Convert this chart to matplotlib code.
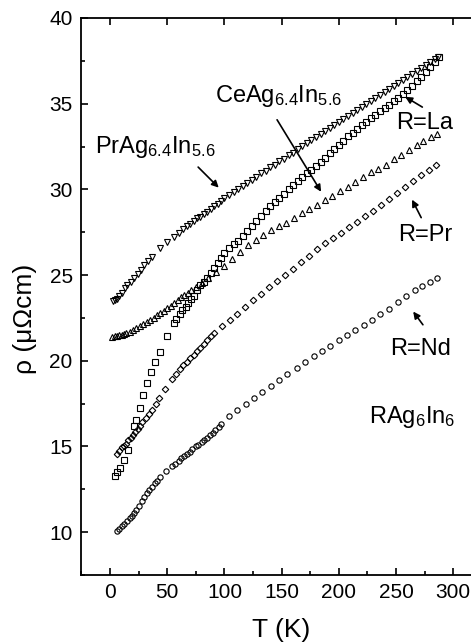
import matplotlib
matplotlib.use('Agg')
from matplotlib import pyplot as plt
from matplotlib.ticker import MultipleLocator

plt.rcParams['font.family'] = ['Liberation Sans', 'DejaVu Sans']
plt.rcParams['mathtext.fontset'] = 'custom'
plt.rcParams['mathtext.rm'] = 'Liberation Sans'
plt.rcParams['mathtext.default'] = 'regular'

# PrAg6.4In5.6 (open down triangles)
t_pr64 = [3, 4, 6, 8, 10, 13, 15, 18, 21, 24, 27, 30, 33, 37, 44, 50, 56, 60, 64, 67, 70, 73, 76, 79,
          82, 85, 88, 91, 94, 97, 100, 104, 108, 112, 116, 120, 124, 128, 132, 136, 140, 144, 148,
          152, 156, 160, 164, 168, 172, 176, 180, 184, 188, 192, 196, 200, 204, 208, 212, 216, 220,
          224, 228, 232, 236, 240, 244, 248, 252, 256, 260, 264, 268, 272, 276, 280, 284, 287]
rho_pr64 = [23.5, 23.55, 23.6, 23.75, 23.95, 24.25, 24.4, 24.6, 24.85, 25.05, 25.3, 25.6, 25.8, 26.05,
            26.55, 26.9, 27.2, 27.45, 27.7, 27.85, 28.0, 28.15, 28.3, 28.4, 28.55, 28.7, 28.85, 29.0,
            29.15, 29.35, 29.5, 29.7, 29.85, 30.05, 30.2, 30.4, 30.55, 30.75, 30.95, 31.1, 31.3, 31.45,
            31.65, 31.8, 32.0, 32.15, 32.35, 32.55, 32.7, 32.9, 33.05, 33.25, 33.4, 33.6, 33.75, 33.95,
            34.1, 34.3, 34.45, 34.65, 34.8, 35.0, 35.15, 35.35, 35.5, 35.7, 35.85, 36.05, 36.2, 36.4,
            36.55, 36.75, 36.9, 37.1, 37.25, 37.45, 37.6, 37.75]

# CeAg6.4In5.6 (open up triangles)
t_ce64 = [2, 4, 6, 8, 10, 12, 14, 17, 20, 23, 26, 29, 32, 35, 38, 41, 44, 47, 50, 53, 56, 59, 62, 65,
          68, 71, 75, 80, 86, 93, 100, 107, 114, 121, 128, 134, 141, 148, 154, 161, 168, 174, 181,
          188, 194, 201, 208, 214, 221, 228, 234, 241, 248, 254, 261, 268, 274, 281, 286]
rho_ce64 = [21.4, 21.42, 21.45, 21.48, 21.52, 21.57, 21.62, 21.7, 21.8, 21.9, 22.0, 22.12, 22.25,
            22.38, 22.5, 22.65, 22.78, 22.9, 23.05, 23.2, 23.38, 23.55, 23.72, 23.85, 23.98, 24.1,
            24.3, 24.55, 24.85, 25.2, 25.55, 25.95, 26.35, 26.75, 27.05, 27.35, 27.6, 27.85, 28.05,
            28.35, 28.6, 28.85, 29.1, 29.4, 29.6, 29.9, 30.15, 30.45, 30.75, 31.0, 31.2, 31.45, 31.75,
            32.0, 32.3, 32.6, 32.85, 33.05, 33.25]

# LaAg6In6 (open squares)
t_la = [4, 6, 9, 12, 16, 21, 23, 26, 29, 32, 36, 39, 44, 50, 56, 58, 61, 63, 66, 68, 71, 73, 76, 79,
        82, 85, 88, 91, 94, 97, 100, 104, 108, 112, 116, 120, 124, 128, 132, 136, 140, 144, 148, 152,
        156, 160, 164, 168, 172, 176, 180, 184, 188, 192, 196, 200, 204, 208, 212, 216, 220, 224, 228,
        232, 236, 240, 244, 248, 252, 256, 260, 264, 268, 272, 276, 280, 284, 288]
rho_la = [13.25, 13.5, 13.75, 14.2, 14.8, 16.2, 16.55, 17.25, 18.0, 18.7, 19.35, 19.9, 20.5, 21.45,
          22.2, 22.45, 22.75, 22.95, 23.15, 23.35, 23.6, 23.8, 24.1, 24.4, 24.6, 24.85, 25.1, 25.4,
          25.7, 26.0, 26.3, 26.55, 26.8, 27.0, 27.25, 27.55, 27.85, 28.15, 28.45, 28.75, 29.0, 29.25,
          29.5, 29.75, 30.0, 30.25, 30.5, 30.75, 30.95, 31.15, 31.35, 31.6, 31.85, 32.1, 32.35, 32.6,
          32.85, 33.1, 33.3, 33.55, 33.75, 33.95, 34.15, 34.35, 34.55, 34.75, 34.95, 35.15, 35.35,
          35.55, 35.8, 36.05, 36.3, 36.55, 36.85, 37.15, 37.45, 37.75]

# PrAg6In6 (open diamonds)
t_pr = [6, 8, 10, 12, 14, 16, 18, 20, 22, 24, 26, 28, 31, 34, 37, 40, 43, 48, 54, 58, 61, 64, 67, 70,
        73, 76, 79, 82, 85, 88, 91, 98, 105, 111, 118, 125, 132, 139, 146, 153, 160, 167, 174, 181,
        188, 195, 202, 209, 216, 223, 230, 237, 244, 251, 258, 265, 272, 279, 285]
rho_pr = [14.55, 14.75, 14.95, 15.05, 15.15, 15.35, 15.5, 15.65, 15.85, 16.0, 16.2, 16.4, 16.65, 16.9,
          17.15, 17.5, 17.85, 18.35, 18.95, 19.25, 19.5, 19.75, 19.95, 20.15, 20.35, 20.55, 20.75,
          21.0, 21.2, 21.45, 21.6, 22.0, 22.4, 22.75, 23.15, 23.55, 23.9, 24.3, 24.65, 25.0, 25.35,
          25.75, 26.1, 26.5, 26.85, 27.15, 27.45, 27.8, 28.1, 28.45, 28.75, 29.1, 29.45, 29.8, 30.15,
          30.5, 30.85, 31.15, 31.45]

# NdAg6In6 (open circles)
t_nd = [6, 8, 10, 12, 15, 17, 19, 21, 23, 25, 28, 30, 32, 34, 37, 39, 41, 44, 49, 54, 57, 60, 62, 65,
        67, 70, 72, 75, 77, 80, 82, 85, 87, 90, 92, 95, 97, 104, 111, 119, 126, 133, 141, 148, 155,
        163, 170, 178, 185, 192, 200, 207, 214, 222, 229, 236, 244, 252, 259, 267, 273, 280, 286]
rho_nd = [10.05, 10.2, 10.35, 10.5, 10.65, 10.8, 10.95, 11.1, 11.3, 11.5, 11.8, 12.05, 12.3, 12.45,
          12.65, 12.85, 13.0, 13.2, 13.55, 13.85, 14.0, 14.15, 14.3, 14.45, 14.55, 14.7, 14.85, 15.0,
          15.1, 15.25, 15.35, 15.5, 15.65, 15.8, 15.95, 16.15, 16.3, 16.8, 17.1, 17.5, 17.85, 18.2,
          18.55, 18.9, 19.2, 19.55, 19.9, 20.25, 20.55, 20.85, 21.2, 21.5, 21.8, 22.1, 22.4, 22.7,
          23.0, 23.4, 23.75, 24.1, 24.35, 24.6, 24.8]

fig = plt.figure(figsize=(4.71, 6.42), dpi=100)
ax = fig.add_axes([0.172, 0.1044, 0.85, 0.8676])

mk = dict(linestyle='none', mfc='none', mec='black', mew=0.8)
ax.plot(t_pr64, rho_pr64, marker='v', ms=4.4, **mk)
ax.plot(t_ce64, rho_ce64, marker='^', ms=4.4, **mk)
ax.plot(t_la, rho_la, marker='s', ms=4.0, **mk)
ax.plot(t_pr, rho_pr, marker='D', ms=3.3, **mk)
ax.plot(t_nd, rho_nd, marker='o', ms=3.8, **mk)

ax.set_xlim(-25.4, 324.6)
ax.set_ylim(7.5, 40)
ax.xaxis.set_major_locator(MultipleLocator(50))
ax.xaxis.set_minor_locator(MultipleLocator(25))
ax.yaxis.set_major_locator(MultipleLocator(5))
ax.yaxis.set_minor_locator(MultipleLocator(2.5))
ax.tick_params(which='both', direction='in', labelsize=15, width=1.2)
ax.tick_params(which='major', length=5, top=True, pad=6)
ax.tick_params(which='minor', length=3, top=False)
for s in ax.spines.values():
    s.set_linewidth(1.3)

ax.set_xlabel('T (K)', fontsize=19)
ax.set_ylabel('ρ (μΩcm)', fontsize=19)
ax.xaxis.set_label_coords(0.5, -0.077)
ax.yaxis.set_label_coords(-0.11, 0.46)

# labels and arrows
fs = 17
ax.text(-13, 32.13, r'PrAg$_{6.4}$In$_{5.6}$', fontsize=fs, ha='left', va='baseline')
ax.text(92, 35.12, r'CeAg$_{6.4}$In$_{5.6}$', fontsize=fs, ha='left', va='baseline')
ax.text(250.5, 33.5, 'R=La', fontsize=fs, ha='left', va='baseline')
ax.text(252, 27.0, 'R=Pr', fontsize=fs, ha='left', va='baseline')
ax.text(245, 20.36, 'R=Nd', fontsize=fs, ha='left', va='baseline')
ax.text(226, 16.34, r'RAg$_6$In$_6$', fontsize=fs, ha='left', va='baseline')

arr = dict(arrowstyle='-|>', color='black', lw=1.2, mutation_scale=10, shrinkA=0, shrinkB=0)
ax.annotate('', xy=(95, 30.1), xytext=(77, 31.3), arrowprops=arr)
ax.annotate('', xy=(184.5, 29.86), xytext=(146, 34.06), arrowprops=arr)
ax.annotate('', xy=(258, 35.4), xytext=(273, 34.8), arrowprops=arr)
ax.annotate('', xy=(264, 29.4), xytext=(272, 28.35), arrowprops=arr)
ax.annotate('', xy=(265, 22.87), xytext=(273.5, 22.1), arrowprops=arr)

fig.savefig('out.png', dpi=100)
